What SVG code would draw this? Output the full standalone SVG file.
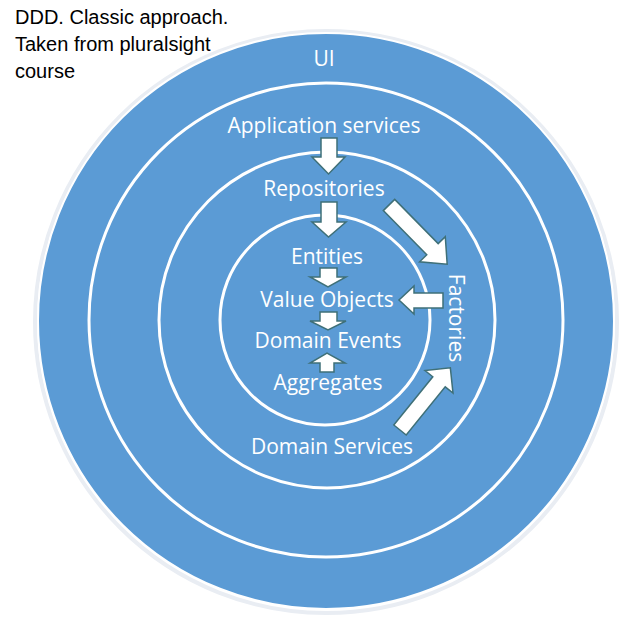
<svg xmlns="http://www.w3.org/2000/svg" width="643" height="632" viewBox="0 0 643 632">
  <style>
    .ring { fill: none; stroke: #ffffff; stroke-width: 3; }
    .lbl { font-family: "Open Sans", "Liberation Sans", sans-serif; font-size: 21px; fill: #ffffff; text-anchor: middle; }
    .title { font-family: "Liberation Sans", Arial, sans-serif; font-size: 20px; fill: #000000; }
    .arrow { fill: #ffffff; stroke: #3f7078; stroke-width: 1.5; stroke-linejoin: miter; }
  </style>
  <rect width="643" height="632" fill="#ffffff"/>

  <g id="title">
    <text class="title" x="15" y="24">DDD. Classic approach.</text>
    <text class="title" x="15" y="51">Taken from pluralsight</text>
    <text class="title" x="15" y="78">course</text>
  </g>

  <g id="ui-layer">
    <circle cx="326" cy="322" r="291" fill="none" stroke="#e9edf3" stroke-width="4"/>
    <circle cx="326" cy="321" r="288" fill="#5b9bd5" stroke="#ffffff" stroke-width="2"/>
    <text class="lbl" x="324" y="66">UI</text>
  </g>

  <g id="application-layer">
    <circle class="ring" cx="326" cy="320" r="237"/>
    <text class="lbl" x="324" y="133">Application services</text>
  </g>

  <g id="domain-layer">
    <circle class="ring" cx="327" cy="320" r="168"/>
  </g>

  <g id="core-layer">
    <circle class="ring" cx="325" cy="320" r="105"/>
  </g>

  <g id="repositories"><text class="lbl" x="324" y="196">Repositories</text></g>
  <g id="factories"><text class="lbl" transform="translate(449,318) rotate(90)" x="0" y="0">Factories</text></g>
  <g id="domain-services"><text class="lbl" x="332" y="454">Domain Services</text></g>
  <g id="entities"><text class="lbl" x="327" y="264">Entities</text></g>
  <g id="value-objects"><text class="lbl" x="327" y="307">Value Objects</text></g>
  <g id="domain-events"><text class="lbl" x="328" y="348">Domain Events</text></g>
  <g id="aggregates"><text class="lbl" x="328" y="390">Aggregates</text></g>

  <g id="connectors">
    <!-- Application services -> Repositories -->
    <path class="arrow" d="M321,138 L337,138 L337,157 L345,157 L328.5,174 L312,157 L321,157 Z"/>
    <!-- Repositories -> Entities -->
    <path class="arrow" d="M321,202 L337,202 L337,222 L346,222 L328.5,237 L312,222 L321,222 Z"/>
    <!-- Entities -> Value Objects -->
    <path class="arrow" d="M320,268 L337,268 L337,277 L346,277 L328,287 L310,277 L320,277 Z"/>
    <!-- Value Objects -> Domain Events -->
    <path class="arrow" d="M320,312 L337,312 L337,321 L346,321 L328,330 L310,321 L320,321 Z"/>
    <!-- Aggregates -> Domain Events -->
    <path class="arrow" d="M320,372 L334,372 L334,363 L345,363 L327,353 L310,363 L320,363 Z"/>
    <!-- Factories -> Value Objects -->
    <path class="arrow" d="M443,293 L443,308 L414,308 L414,314 L399,300 L414,286 L414,293 Z"/>
    <!-- Repositories -> Factories -->
    <path class="arrow" transform="translate(389,205) rotate(45.5)" d="M0,-8 L62,-8 L62,-18 L83,0 L62,18 L62,8 L0,8 Z"/>
    <!-- Domain Services -> Factories -->
    <path class="arrow" transform="translate(400,430) rotate(-51)" d="M0,-8 L62,-8 L62,-18 L80,0 L62,18 L62,8 L0,8 Z"/>
  </g>
</svg>
